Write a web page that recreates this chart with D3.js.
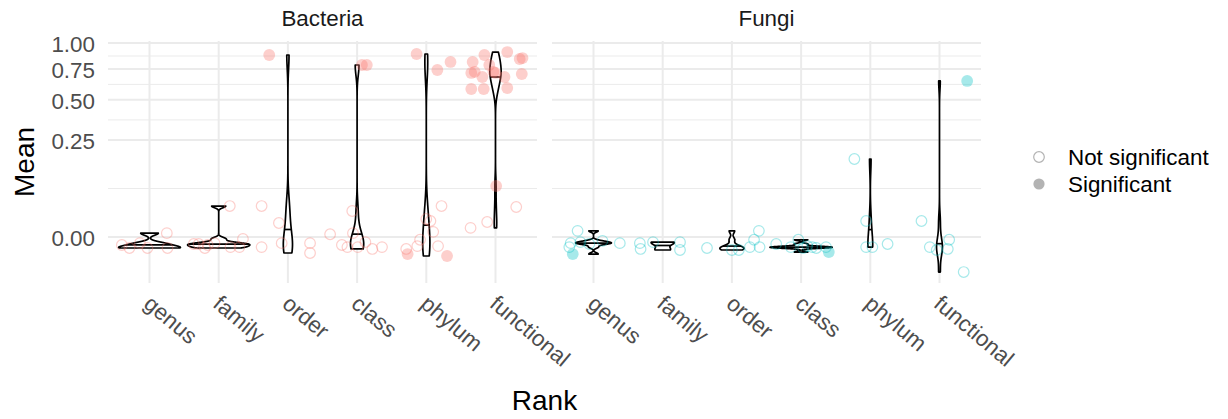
<!DOCTYPE html>
<html>
<head>
<meta charset="utf-8">
<script src="https://cdn.jsdelivr.net/npm/d3@7"></script>
<style>
  body { margin: 0; background: #fff; }
  text { font-family: "Liberation Sans", Arial, sans-serif; }
</style>
</head>
<body>
<script>
// Data
var ranks = ["genus", "family", "order", "class", "phylum", "functional"];
var kingdoms = ["Bacteria", "Fungi"];
var kingdomColors = ["#F8766D", "#00BFC4"];
var yBreaks = [0, 0.25, 0.5, 0.75, 1];
var yLabels = ["0.00", "0.25", "0.50", "0.75", "1.00"];
var legendLabels = ["Not significant", "Significant"];

// mean per feature, one list per rank
var bacteriaMeans = [
    [-0.0017, -0.0032, -0.0010, -0.0032, 0.0004, -0.0032],
    [-0.0013, -0.0013, -0.0032, -0.0017, -0.0010, 0.0255, -0.0027, -0.0027, -0.0001],
    [0.0255, 0.0052, -0.0027, -0.0010, -0.0010, -0.0068, 0.880],
    [0.0002, -0.0017, -0.0027, 0.018, 0.0004, -0.0027, -0.0007, -0.0038, -0.0027, 0.786, 0.786],
    [-0.0038, -0.0077, -0.0022, -0.0002, 0.0086, 0.0068, 0.0007, -0.0022, 0.0255, -0.0096, 0.890, 0.741, 0.814],
    [0.814, 0.715, 0.724, 0.880, 0.680, 0.582, 0.582, 0.786, 0.715, 0.680, 0.909, 0.842, 0.851, 0.706, 0.590, 0.724, 0.0691, 0.0022, 0.0060, 0.0239]
];
var bacteriaSignificant = [
    [0, 0, 0, 0, 0, 0],
    [0, 0, 0, 0, 0, 0, 0, 0, 0],
    [0, 0, 0, 0, 0, 0, 1],
    [0, 0, 0, 0, 0, 0, 0, 0, 0, 1, 1],
    [0, 1, 0, 0, 0, 0, 0, 0, 0, 1, 1, 1, 1],
    [1, 1, 1, 1, 1, 1, 1, 1, 1, 1, 1, 1, 1, 1, 1, 1, 1, 0, 0, 0]
];
var fungiMeans = [
    [0.0010, -0.0010, -0.0027, -0.0077, -0.0007, -0.0013, -0.0004, -0.0010],
    [-0.0010, -0.0038, -0.0007, -0.0007, -0.0045],
    [-0.0032, -0.0045, -0.0045, -0.0027, -0.0002, 0.0010, -0.0027],
    [-0.0013, -0.0002, -0.0032, -0.0032, -0.0027, -0.0060, -0.0022, -0.0027, -0.0027],
    [0.1616, 0.0068, -0.0027, -0.0027, -0.0013],
    [0.0068, -0.0027, -0.0045, -0.0038, -0.0002, -0.0326, 0.647]
];
var fungiSignificant = [
    [0, 0, 0, 1, 0, 0, 0, 0],
    [0, 0, 0, 0, 0],
    [0, 0, 0, 0, 0, 0, 0],
    [0, 0, 0, 0, 0, 1, 0, 0, 0],
    [0, 0, 0, 0, 0],
    [0, 0, 0, 0, 0, 0, 1]
];
// horizontal jitter of each point, in rank units
var bacteriaJitter = [
    [-0.40, -0.29, -0.14, -0.03, 0.25, 0.26],
    [-0.36, -0.29, -0.20, -0.16, -0.06, 0.16, 0.17, 0.30, 0.35],
    [-0.38, -0.13, -0.38, -0.09, 0.32, 0.32, -0.27],
    [-0.39, -0.22, -0.14, -0.07, -0.06, 0.01, 0.12, 0.22, 0.36, 0.07, 0.14],
    [-0.29, -0.27, -0.13, -0.09, 0.0, 0.06, 0.10, 0.17, 0.22, 0.30, -0.14, 0.16, 0.35],
    [-0.33, -0.35, -0.30, -0.16, -0.19, -0.35, -0.17, -0.09, 0.0, 0.13, 0.17, 0.35, 0.39, 0.38, 0.17, -0.03, 0.01, -0.36, -0.12, 0.30]
];
var fungiJitter = [
    [-0.23, -0.33, -0.35, -0.30, -0.19, -0.06, 0.13, 0.38],
    [-0.33, -0.32, -0.14, 0.25, 0.25],
    [-0.36, 0.0, 0.10, 0.26, 0.32, 0.39, 0.40],
    [-0.36, -0.04, 0.03, 0.22, 0.36, 0.40, 0.09, -0.15, 0.16],
    [-0.23, -0.06, -0.06, 0.03, 0.25],
    [-0.26, -0.14, -0.04, 0.12, 0.14, 0.35, 0.40]
];

var allMeans = [bacteriaMeans, fungiMeans];
var allSignificant = [bacteriaSignificant, fungiSignificant];
var allJitter = [bacteriaJitter, fungiJitter];


// Layout
var width = 1228, height = 419;
var panelTop = 41, panelBottom = 283;
var panelX = [[108, 537], [552, 981]];
var pointRadius = 5.3;

var svg = d3.select("body").append("svg")
    .attr("width", width)
    .attr("height", height);

// signed sqrt axis, same as the plot
var y = d3.scaleSqrt()
    .domain([-0.0562, 1.0207])
    .range([panelBottom, panelTop]);

var signedSqrt = function(v) { return v < 0 ? -Math.sqrt(-v) : Math.sqrt(v); };
var unSqrt = function(t) { return t < 0 ? -t * t : t * t; };

var minorBreaks = d3.pairs(yBreaks).map(function(p) {
    return y.invert((y(p[0]) + y(p[1])) / 2);
});


// violin density like R's density() with bw.nrd0
function bwNrd0(xs) {
    var sorted = xs.slice().sort(d3.ascending);
    var hi = d3.deviation(sorted);
    var iqr = d3.quantileSorted(sorted, 0.75) - d3.quantileSorted(sorted, 0.25);
    var lo = Math.min(hi, iqr / 1.34);
    if (!lo) lo = hi || Math.abs(sorted[0]) || 1;
    return 0.9 * lo * Math.pow(sorted.length, -0.2);
}

function violinDensity(values) {
    var ts = values.map(signedSqrt);
    var bw = bwNrd0(ts);
    var lo = d3.min(ts), hi = d3.max(ts);
    var n = 512;
    var out = [];
    for (var i = 0; i < n; i++) {
        var t = lo + (hi - lo) * i / (n - 1);
        var s = 0;
        ts.forEach(function(xi) {
            var u = (t - xi) / bw;
            s += Math.exp(-0.5 * u * u);
        });
        out.push({t: t, density: s / (ts.length * bw * Math.sqrt(2 * Math.PI))});
    }
    return out;
}

function medianOf(dens) {
    var total = d3.sum(dens, function(d) { return d.density; });
    var cum = 0;
    var ecdf = dens.map(function(d) { cum += d.density; return cum / total; });
    for (var i = 1; i < dens.length; i++) {
        if (ecdf[i] >= 0.5) {
            var f = (0.5 - ecdf[i - 1]) / (ecdf[i] - ecdf[i - 1]);
            return {
                t: dens[i - 1].t + f * (dens[i].t - dens[i - 1].t),
                vw: dens[i - 1].vw + f * (dens[i].vw - dens[i - 1].vw)
            };
        }
    }
    return {t: dens[0].t, vw: dens[0].vw};
}


kingdoms.forEach(function(kingdom, k) {
    var x = d3.scalePoint()
        .domain(ranks)
        .range(panelX[k])
        .padding(0.6);
    var step = x.step();
    var color = kingdomColors[k];
    var g = svg.append("g").attr("class", "panel");

    // grid
    g.selectAll(".minor").data(minorBreaks).enter()
        .append("line")
        .attr("x1", panelX[k][0]).attr("x2", panelX[k][1])
        .attr("y1", y).attr("y2", y)
        .attr("stroke", "#ebebeb").attr("stroke-width", 1);
    g.selectAll(".major").data(yBreaks).enter()
        .append("line")
        .attr("x1", panelX[k][0]).attr("x2", panelX[k][1])
        .attr("y1", y).attr("y2", y)
        .attr("stroke", "#ebebeb").attr("stroke-width", 2);
    g.selectAll(".vmajor").data(ranks).enter()
        .append("line")
        .attr("x1", x).attr("x2", x)
        .attr("y1", panelTop).attr("y2", panelBottom)
        .attr("stroke", "#ebebeb").attr("stroke-width", 2);

    // strip title
    svg.append("text")
        .attr("x", (panelX[k][0] + panelX[k][1]) / 2)
        .attr("y", 26)
        .attr("text-anchor", "middle")
        .attr("font-size", 22.4)
        .attr("fill", "#1a1a1a")
        .text(kingdom);

    // violins, width scaled to the largest density in the panel
    var dens = allMeans[k].map(violinDensity);
    var maxDens = d3.max(dens, function(d) { return d3.max(d, function(p) { return p.density; }); });
    dens.forEach(function(d) {
        d.forEach(function(p) { p.vw = p.density / maxDens; });
    });

    dens.forEach(function(d, r) {
        var cx = x(ranks[r]);
        var half = 0.45 * step;
        var outline = d.map(function(p) { return [cx + p.vw * half, y(unSqrt(p.t))]; })
            .concat(d.slice().reverse().map(function(p) { return [cx - p.vw * half, y(unSqrt(p.t))]; }));
        g.append("path")
            .attr("d", d3.line()(outline) + "Z")
            .attr("fill", "white")
            .attr("stroke", "black")
            .attr("stroke-width", 1.7)
            .attr("stroke-linejoin", "round");
        var m = medianOf(d);
        g.append("line")
            .attr("x1", cx - m.vw * half).attr("x2", cx + m.vw * half)
            .attr("y1", y(unSqrt(m.t))).attr("y2", y(unSqrt(m.t)))
            .attr("stroke", "black").attr("stroke-width", 1.7);
    });

    // points
    allMeans[k].forEach(function(vals, r) {
        var pts = vals.map(function(v, i) {
            return {v: v, sig: allSignificant[k][r][i], jit: allJitter[k][r][i]};
        });
        g.selectAll(".pt-" + r).data(pts).enter()
            .append("circle")
            .attr("cx", function(d) { return x(ranks[r]) + d.jit * step; })
            .attr("cy", function(d) { return y(d.v); })
            .attr("r", function(d) { return d.sig ? pointRadius + 0.6 : pointRadius; })
            .attr("fill", function(d) { return d.sig ? color : "none"; })
            .attr("stroke", function(d) { return d.sig ? "none" : color; })
            .attr("stroke-width", 1.2)
            .attr("opacity", 0.35);
    });

    // x tick labels
    g.selectAll(".xtick").data(ranks).enter()
        .append("text")
        .attr("transform", function(d) { return "translate(" + (x(d) - 7) + "," + 306 + ") rotate(40)"; })
        .attr("font-size", 22.4)
        .attr("fill", "#4d4d4d")
        .text(function(d) { return d; });
});

// y tick labels
svg.selectAll(".ytick").data(yBreaks).enter()
    .append("text")
    .attr("x", 95)
    .attr("y", y)
    .attr("dy", "0.4em")
    .attr("text-anchor", "end")
    .attr("font-size", 22.4)
    .attr("fill", "#4d4d4d")
    .text(function(d, i) { return yLabels[i]; });

// axis titles
svg.append("text")
    .attr("transform", "translate(34," + (panelTop + panelBottom) / 2 + ") rotate(-90)")
    .attr("text-anchor", "middle")
    .attr("font-size", 28)
    .attr("fill", "black")
    .text("Mean");

svg.append("text")
    .attr("x", (panelX[0][0] + panelX[1][1]) / 2)
    .attr("y", 410)
    .attr("text-anchor", "middle")
    .attr("font-size", 28)
    .attr("fill", "black")
    .text("Rank");

// legend
var legend = svg.append("g").attr("transform", "translate(1039,157)");
legendLabels.forEach(function(label, i) {
    legend.append("circle")
        .attr("cx", 0).attr("cy", i * 27)
        .attr("r", i ? pointRadius + 0.3 : pointRadius)
        .attr("fill", i ? "#b3b3b3" : "none")
        .attr("stroke", i ? "none" : "#b3b3b3")
        .attr("stroke-width", 1.2);
    legend.append("text")
        .attr("x", 29).attr("y", i * 27)
        .attr("dy", "0.36em")
        .attr("font-size", 22.4)
        .attr("fill", "black")
        .text(label);
});
</script>
</body>
</html>
